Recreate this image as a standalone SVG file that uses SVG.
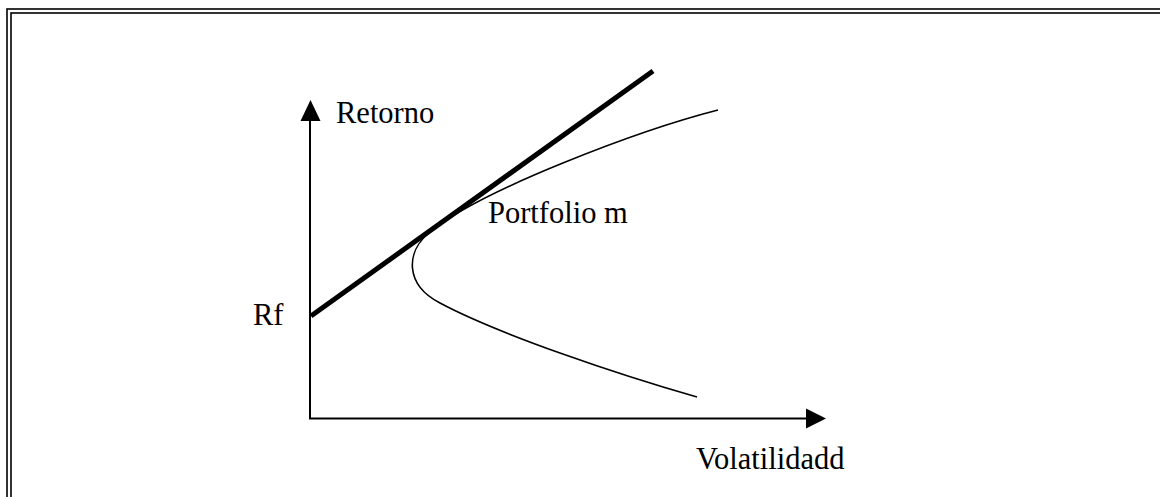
<svg xmlns="http://www.w3.org/2000/svg" width="1160" height="497" viewBox="0 0 1160 497">
  <style>
    .frame { fill: none; stroke: #000; stroke-width: 1.6; }
    .axis { fill: none; stroke: #000; stroke-width: 2; }
    .label { font-family: "Liberation Serif", "Times New Roman", serif; font-size: 30.5px; fill: #000; }
    .cml { fill: none; stroke: #000; stroke-width: 5; }
    .frontier { fill: none; stroke: #000; stroke-width: 1.6; }
  </style>
  <rect width="1160" height="497" fill="#fff"/>
  <g id="frame">
    <rect class="frame" x="7" y="9" width="1170" height="510"/>
    <rect class="frame" x="11" y="13" width="1170" height="510"/>
  </g>
  <g id="connectors">
    <path id="y-axis" class="axis" d="M310 418.5 V120"/>
    <polygon points="300.5,121 320.5,121 310.5,100" fill="#000"/>
    <path id="x-axis" class="axis" d="M309 418.5 H807"/>
    <polygon points="806,408.5 806,428.5 826,418.5" fill="#000"/>
    <path id="cml" class="cml" d="M311 316 L653 71"/>
    <path id="frontier" class="frontier" d="M718 110 C640 130 480 190 430 232 C405 252 405 285 440 303 C500 335 620 375 697 397"/>
  </g>
  <g id="retorno"><text class="label" x="336" y="123">Retorno</text></g>
  <g id="volatilidad"><text class="label" x="696" y="469">Volatilidadd</text></g>
  <g id="rf"><text class="label" x="253" y="325">Rf</text></g>
  <g id="portfolio"><text class="label" x="488" y="223">Portfolio m</text></g>
</svg>
